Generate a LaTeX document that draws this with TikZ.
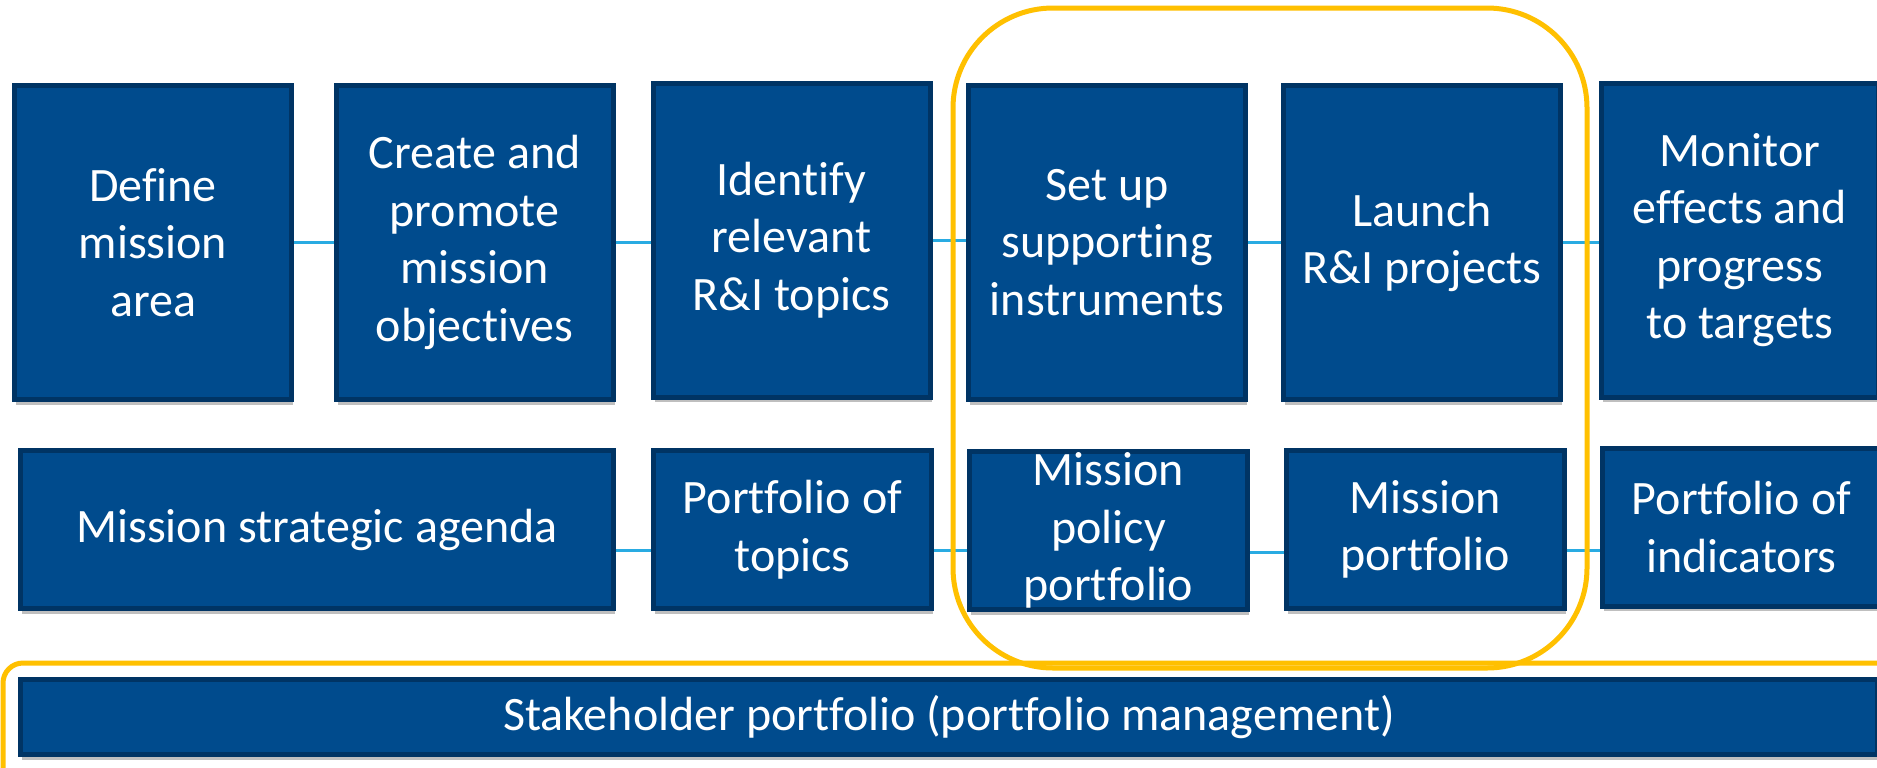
\documentclass[tikz,border=0pt]{standalone}
\usepackage{fontspec}
\setmainfont{Carlito}[Ligatures={NoCommon}]
\usetikzlibrary{shadows,backgrounds}
\definecolor{boxfill}{RGB}{0,75,141}
\definecolor{boxborder}{RGB}{0,52,100}
\definecolor{connblue}{RGB}{41,171,226}
\definecolor{frameyellow}{RGB}{255,192,0}
\newcommand{\boxfont}{\fontsize{24}{28.75}\selectfont}
\tikzset{
  stepbox/.style={draw=boxborder, line width=2.5pt, fill=boxfill, text=white,
    font=\boxfont, align=center, inner sep=0pt,
    drop shadow={shadow xshift=0.8pt, shadow yshift=-2.5pt, opacity=0.25, fill=black}},
  tallbox/.style={stepbox, minimum width=138.5pt, minimum height=157pt},
  lowbox/.style={stepbox, minimum width=139pt, minimum height=79pt},
  conn/.style={draw=connblue, line width=1.5pt},
  frame/.style={draw=frameyellow, line width=2.5pt},
}
\begin{document}
\begin{tikzpicture}[x=0.5pt, y=-0.5pt]
\useasboundingbox (0,0) rectangle (1877,767);
\clip (0,0) rectangle (1877,767);
\fill[white] (0,0) rectangle (1877,767);

% top row
\node[tallbox] (b1) at (153,242.5) {Define\\mission\\area};
\node[tallbox] (b2) at (474.5,242.5) {Create and\\promote\\mission\\objectives};
\node[tallbox] (b3) at (791.5,240) {Identify\\relevant\\R\&I topics};
\node[tallbox] (b4) at (1107,242.5) {Set up\\supporting\\instruments};
\node[tallbox] (b5) at (1422,242.5) {Launch\\R\&I projects};
\node[tallbox] (b6) at (1740,240) {Monitor\\effects and\\progress\\to targets};

% second row
\node[lowbox, minimum width=296.5pt] (a1) at (317,529.5) {Mission strategic agenda};
\node[lowbox] (a2) at (792.5,529.5) {Portfolio of\\topics};
\node[lowbox] (a3) at (1108.5,530.5) {Mission\\policy\\portfolio};
\node[lowbox] (a4) at (1425,529.5) {Mission\\portfolio};
\node[lowbox] (a5) at (1741.5,527) {Portfolio of\\indicators};

% stakeholder bar
\node[stepbox, minimum width=928.5pt, minimum height=37.5pt] (sh) at (949,717)
  {Stakeholder portfolio (portfolio management)};

% connectors
\draw[conn] (b1.east) -- (b1.east -| b2.west);
\draw[conn] (b2.east) -- (b2.east -| b3.west);
\draw[conn] (b3.east) -- (b3.east -| b4.west);
\draw[conn] (b4.east) -- (b4.east -| b5.west);
\draw[conn] (b5.east) -- (b5.east -| b6.west);
\draw[conn] ([yshift=-10.5pt]a1.east) -- ([yshift=-10.5pt]a1.east -| a2.west);
\draw[conn] ([yshift=-10.5pt]a2.east) -- ([yshift=-10.5pt]a2.east -| a3.west);
\draw[conn] ([yshift=-11pt]a3.east) -- ([yshift=-11pt]a3.east -| a4.west);
\draw[conn] ([yshift=-10.5pt]a4.east) -- ([yshift=-10.5pt]a4.east -| a5.west);

% yellow frames
\draw[frame, rounded corners=10pt] (3,663) rectangle (1900,800);
\draw[frame, rounded corners=50pt] (953,8) rectangle (1587,668);
\end{tikzpicture}
\end{document}
